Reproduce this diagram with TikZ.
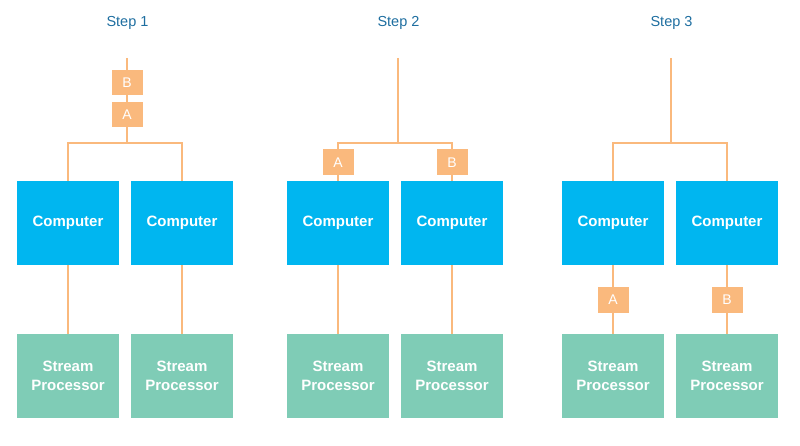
\documentclass[tikz,border=0pt]{standalone}
\usepackage{fontspec}
\setmainfont{Liberation Sans}
\definecolor{compblue}{RGB}{0,182,240}
\definecolor{streamgreen}{RGB}{127,204,182}
\definecolor{tokenorange}{RGB}{250,185,125}
\definecolor{titleblue}{RGB}{30,110,160}

\begin{document}
\begin{tikzpicture}[x=1pt,y=-1pt,
    comp/.style={fill=compblue,minimum width=102pt,minimum height=84pt,
      text=white,font=\fontsize{15}{18.5}\selectfont\bfseries,inner sep=0pt},
    stream/.style={comp,fill=streamgreen,align=center},
    token/.style={fill=tokenorange,minimum width=31pt,minimum height=26pt,
      text=white,font=\fontsize{14}{16}\selectfont,inner sep=0pt},
    wire/.style={draw=tokenorange,line width=2pt},
    steptitle/.style={text=titleblue,font=\fontsize{14.5}{17}\selectfont}]
  \useasboundingbox (0,0) rectangle (800,446);
  % three groups: offset of the boxes, x of the feed line
  \foreach \g/\dx/\tx in {1/0/127,2/270/398,3/545/671}{%
    \node[steptitle] (title\g) at (\tx+0.5,23) {Step \g};
    \node[comp] (comp\g a) at (68+\dx,223) {Computer};
    \node[comp] (comp\g b) at (182+\dx,223) {Computer};
    \node[stream] (proc\g a) at (68+\dx,376) {Stream\\Processor};
    \node[stream] (proc\g b) at (182+\dx,376) {Stream\\Processor};
    \path[coordinate] (\tx,58) coordinate (feed\g)
      (\tx,143) coordinate (join\g)
      (68+\dx,143) coordinate (left\g)
      (182+\dx,143) coordinate (right\g);
    \draw[wire] (feed\g) -- (join\g);
    \draw[wire] (comp\g a.north) -- (left\g) -- (right\g) -- (comp\g b.north);
    \draw[wire] (comp\g a) -- (proc\g a);
    \draw[wire] (comp\g b) -- (proc\g b);
  }
  % where the messages are
  \node[token,minimum height=25pt] (tokB1) at (127,82.5) {B};
  \node[token,minimum height=25pt] (tokA1) at (127,115) {A};
  \node[token] (tokA2) at (338,162.5) {A};
  \node[token] (tokB2) at (452,162.5) {B};
  \node[token] (tokA3) at (613,299.5) {A};
  \node[token] (tokB3) at (727,299.5) {B};
\end{tikzpicture}
\end{document}
